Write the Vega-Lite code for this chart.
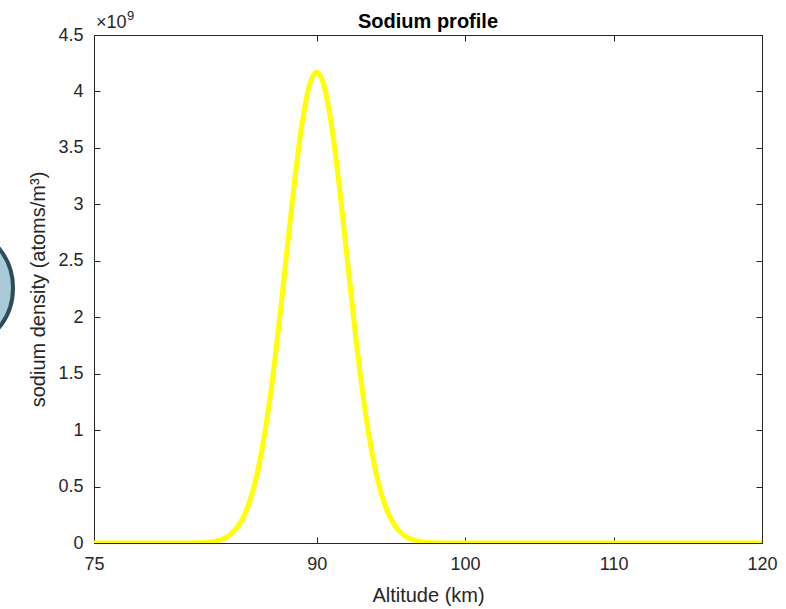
{
  "$schema": "https://vega.github.io/schema/vega-lite/v6.json",
  "width": 668,
  "height": 508,
  "autosize": {"type": "none"},
  "padding": {"left": 94, "top": 35, "right": 24, "bottom": 66},
  "background": "white",
  "config": {
    "font": "Liberation Sans",
    "view": {"stroke": "#262626", "strokeWidth": 1},
    "axis": {
      "grid": false,
      "domainColor": "#262626",
      "tickColor": "#262626",
      "labelColor": "#262626",
      "titleColor": "#262626",
      "labelFont": "Liberation Sans",
      "titleFont": "Liberation Sans",
      "labelFontSize": 18,
      "titleFontSize": 20,
      "titleFontWeight": "normal",
      "tickSize": -6,
      "labelPadding": 17,
      "labelFlush": false,
      "labelOverlap": false
    },
    "title": {"font": "Liberation Sans", "fontSize": 20, "fontWeight": "bold", "color": "#000000", "offset": -22}
  },
  "title": "Sodium profile",
  "datasets": {
    "profile": [
      {"altitude": 75, "density": 0},
      {"altitude": 80, "density": 0},
      {"altitude": 81, "density": 270000},
      {"altitude": 82, "density": 2000000},
      {"altitude": 82.5, "density": 5100000},
      {"altitude": 83, "density": 12200000},
      {"altitude": 83.5, "density": 27300000},
      {"altitude": 84, "density": 57400000},
      {"altitude": 84.5, "density": 113800000},
      {"altitude": 85, "density": 212800000},
      {"altitude": 85.5, "density": 374400000},
      {"altitude": 86, "density": 621000000},
      {"altitude": 86.5, "density": 970000000},
      {"altitude": 87, "density": 1428000000},
      {"altitude": 87.5, "density": 1982000000},
      {"altitude": 88, "density": 2590000000},
      {"altitude": 88.5, "density": 3190000000},
      {"altitude": 89, "density": 3702000000},
      {"altitude": 89.5, "density": 4048000000},
      {"altitude": 90, "density": 4170000000},
      {"altitude": 90.5, "density": 4048000000},
      {"altitude": 91, "density": 3702000000},
      {"altitude": 91.5, "density": 3190000000},
      {"altitude": 92, "density": 2590000000},
      {"altitude": 92.5, "density": 1982000000},
      {"altitude": 93, "density": 1428000000},
      {"altitude": 93.5, "density": 970000000},
      {"altitude": 94, "density": 621000000},
      {"altitude": 94.5, "density": 374400000},
      {"altitude": 95, "density": 212800000},
      {"altitude": 95.5, "density": 113800000},
      {"altitude": 96, "density": 57400000},
      {"altitude": 96.5, "density": 27300000},
      {"altitude": 97, "density": 12200000},
      {"altitude": 97.5, "density": 5100000},
      {"altitude": 98, "density": 2000000},
      {"altitude": 99, "density": 270000},
      {"altitude": 100, "density": 0},
      {"altitude": 120, "density": 0}
    ],
    "exponent": [{"altitude": 75, "density": 4500000000, "base": "×10", "power": "9"}],
    "badge": [{"altitude": 65.3, "density": 2259000000}]
  },
  "layer": [
    {
      "data": {"name": "profile"},
      "mark": {"type": "line", "color": "#ffff00", "strokeWidth": 5, "interpolate": "monotone", "clip": true},
      "encoding": {
        "x": {
          "field": "altitude", "type": "quantitative",
          "scale": {"domain": [75, 120], "nice": false, "zero": false},
          "axis": {"orient": "bottom", "title": "Altitude (km)", "values": [75, 90, 100, 110, 120], "labelPadding": 18, "titlePadding": 12}
        },
        "y": {
          "field": "density", "type": "quantitative",
          "scale": {"domain": [0, 4500000000], "nice": false},
          "axis": {
            "orient": "left",
            "title": "sodium density (atoms/m³)",
            "values": [0, 500000000, 1000000000, 1500000000, 2000000000, 2500000000, 3000000000, 3500000000, 4000000000, 4500000000],
            "labelExpr": "datum.value / 1e9",
            "titlePadding": 9
          }
        }
      }
    },
    {
      "data": {"name": "profile"},
      "mark": {"type": "line", "strokeOpacity": 0},
      "encoding": {
        "x": {
          "field": "altitude", "type": "quantitative",
          "scale": {"domain": [75, 120], "nice": false, "zero": false},
          "axis": {"orient": "top", "title": null, "labels": false, "values": [75, 90, 100, 110, 120]}
        },
        "y": {
          "field": "density", "type": "quantitative",
          "scale": {"domain": [0, 4500000000], "nice": false},
          "axis": {
            "orient": "right", "title": null, "labels": false,
            "values": [0, 500000000, 1000000000, 1500000000, 2000000000, 2500000000, 3000000000, 3500000000, 4000000000, 4500000000]
          }
        }
      }
    },
    {
      "data": {"name": "exponent"},
      "mark": {"type": "text", "align": "left", "baseline": "alphabetic", "dx": 2, "dy": -7, "fontSize": 18, "color": "#262626", "clip": false},
      "encoding": {
        "x": {"field": "altitude", "type": "quantitative", "axis": null},
        "y": {"field": "density", "type": "quantitative", "axis": null},
        "text": {"field": "base"}
      }
    },
    {
      "data": {"name": "exponent"},
      "mark": {"type": "text", "align": "left", "baseline": "alphabetic", "dx": 33, "dy": -15, "fontSize": 13, "color": "#262626", "clip": false},
      "encoding": {
        "x": {"field": "altitude", "type": "quantitative", "axis": null},
        "y": {"field": "density", "type": "quantitative", "axis": null},
        "text": {"field": "power"}
      }
    },
    {
      "data": {"name": "badge"},
      "mark": {"type": "point", "shape": "circle", "filled": true, "fill": "#a8cad9", "stroke": "#2f4c5a", "strokeWidth": 4, "size": 15876, "opacity": 1, "clip": false},
      "encoding": {
        "x": {"field": "altitude", "type": "quantitative", "axis": null},
        "y": {"field": "density", "type": "quantitative", "axis": null}
      }
    }
  ],
  "resolve": {"axis": {"x": "independent", "y": "independent"}}
}
